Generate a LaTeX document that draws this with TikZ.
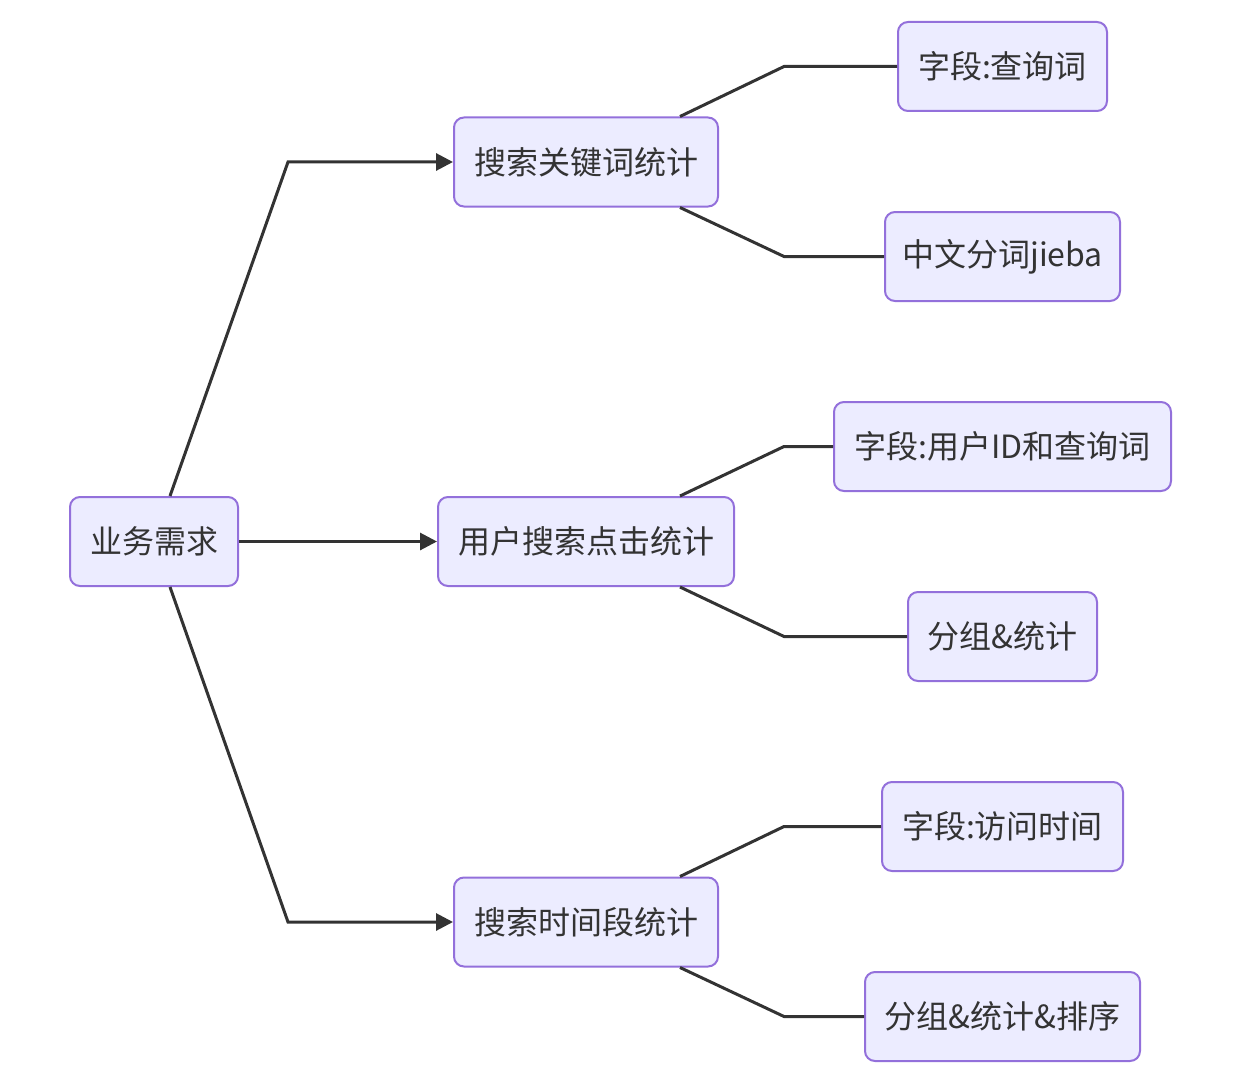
\documentclass[tikz,border=0pt]{standalone}
\usepackage{fontspec}
\setmainfont{Noto Sans CJK SC}
\usetikzlibrary{arrows.meta,calc}
\definecolor{nodefill}{HTML}{ECECFF}
\definecolor{nodeborder}{HTML}{9370DB}
\definecolor{edge}{HTML}{333333}
\definecolor{txt}{HTML}{333333}
\begin{document}
\begin{tikzpicture}[x=1pt,y=-1pt,
  box/.style={draw=nodeborder,fill=nodefill,line width=2pt,rounded corners=10pt,
    minimum height=89pt,inner sep=0pt,text=txt,font=\fontsize{32}{38}\selectfont},
  link/.style={draw=edge,line width=3pt},
  arr/.style={link,-{Triangle[length=17pt,width=17pt]}}]
\useasboundingbox (0,0) rectangle (1244,1086);
\node[box,minimum width=168pt] (root) at (154,541.5) {业务需求};
\node[box,minimum width=264pt] (k1) at (586,162) {搜索关键词统计};
\node[box,minimum width=296pt] (k2) at (586,541.5) {用户搜索点击统计};
\node[box,minimum width=264pt] (k3) at (586,922) {搜索时间段统计};
\node[box,minimum width=209pt] (c1) at (1002.5,66.5) {字段:查询词};
\node[box,minimum width=235pt] (c2) at (1002.5,256.5) {中文分词jieba};
\node[box,minimum width=337pt] (c3) at (1002.5,446.5) {字段:用户ID和查询词};
\node[box,minimum width=189pt] (c4) at (1002.5,636.5) {分组\&统计};
\node[box,minimum width=241pt] (c5) at (1002.5,826.5) {字段:访问时间};
\node[box,minimum width=275pt] (c6) at (1002.5,1016.5) {分组\&统计\&排序};
\coordinate (m1) at (288,0);
\coordinate (m2) at (784,0);
\draw[arr] ([xshift=16pt]root.north) -- (k1.west -| m1) -- (k1.west);
\draw[arr] (root.east) -- (k2.west);
\draw[arr] ([xshift=16pt]root.south) -- (k3.west -| m1) -- (k3.west);
\draw[link] ([xshift=94pt]k1.north) -- (c1.west -| m2) -- (c1.west);
\draw[link] ([xshift=94pt]k1.south) -- (c2.west -| m2) -- (c2.west);
\draw[link] ([xshift=94pt]k2.north) -- (c3.west -| m2) -- (c3.west);
\draw[link] ([xshift=94pt]k2.south) -- (c4.west -| m2) -- (c4.west);
\draw[link] ([xshift=94pt]k3.north) -- (c5.west -| m2) -- (c5.west);
\draw[link] ([xshift=94pt]k3.south) -- (c6.west -| m2) -- (c6.west);
\end{tikzpicture}
\end{document}
